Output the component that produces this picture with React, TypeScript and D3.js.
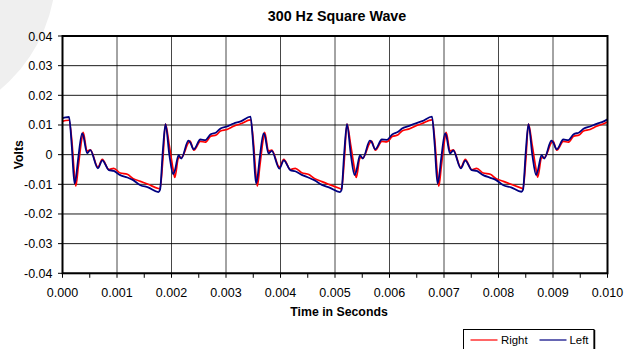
import React from "react";
import * as d3 from "d3";

const timeSec = [
  0.0, 0.00006,
  0.00012, 0.00017, 0.00022, 0.000245, 0.00029, 0.00036, 0.00038, 0.00045, 0.00051, 0.00065, 0.00073, 0.00085, 0.00094, 0.00106, 0.00119, 0.00129, 0.00143, 0.00157, 0.00176, 0.00179, 0.00184, 0.00189, 0.00196, 0.00203, 0.00206, 0.00213, 0.00218, 0.00231, 0.00234, 0.00241, 0.00253, 0.00262, 0.00272, 0.00282, 0.0029, 0.00302, 0.00314, 0.00327,
  0.00345, 0.0035, 0.00355, 0.003575, 0.00362, 0.00369, 0.00371, 0.00378, 0.00384, 0.00398, 0.00406, 0.00418, 0.00427, 0.00439, 0.00452, 0.00462, 0.00476, 0.0049, 0.00509, 0.00512, 0.00517, 0.00522, 0.00529, 0.00536, 0.00539, 0.00546, 0.00551, 0.00564, 0.00567, 0.00574, 0.00586, 0.00595, 0.00605, 0.00615, 0.00623, 0.00635, 0.00647, 0.0066,
  0.00678, 0.00683, 0.00688, 0.006905, 0.00695, 0.00702, 0.00704, 0.00711, 0.00717, 0.00731, 0.00739, 0.00751, 0.0076, 0.00772, 0.00785, 0.00795, 0.00809, 0.00823, 0.00842, 0.00845, 0.0085, 0.00855, 0.00862, 0.00869, 0.00872, 0.00879, 0.00884, 0.00897, 0.009, 0.00907, 0.00919, 0.00928, 0.00938, 0.00948, 0.00956, 0.00968, 0.0098, 0.00993,
  0.01,
];

const leftVolts = [
  0.0123, 0.0126,
  0.0127, 0.003, -0.0097, -0.008, -0.001, 0.0072, 0.0065, 0.0005, 0.0015, -0.0046, -0.0019, -0.0052, -0.0055, -0.0069, -0.0077, -0.0085, -0.0103, -0.011, -0.0126, -0.0118, 0.001, 0.0103, 0.0, -0.0066, -0.0055, -0.0002, -0.0013, 0.0047, 0.0042, 0.0018, 0.0051, 0.0049, 0.0069, 0.0075, 0.0088, 0.0095, 0.0105, 0.0112,
  0.0128, 0.003, -0.0097, -0.0081, -0.001, 0.0072, 0.0066, 0.0004, 0.0013, -0.0047, -0.0019, -0.0052, -0.0056, -0.0068, -0.0078, -0.0086, -0.0102, -0.0111, -0.0126, -0.0119, 0.0008, 0.0103, 0.0001, -0.0069, -0.0056, -0.0002, -0.0013, 0.0047, 0.0043, 0.0018, 0.0051, 0.005, 0.0068, 0.0076, 0.0088, 0.0096, 0.0105, 0.0113,
  0.0128, 0.0031, -0.0097, -0.008, -0.0011, 0.0072, 0.0065, 0.0004, 0.0014, -0.0046, -0.002, -0.0052, -0.0055, -0.0069, -0.0078, -0.0085, -0.0103, -0.011, -0.0125, -0.0118, 0.0009, 0.0103, 0.0, -0.0069, -0.0055, -0.0002, -0.0013, 0.0047, 0.0042, 0.0018, 0.0051, 0.0049, 0.0069, 0.0075, 0.0087, 0.0095, 0.0104, 0.0112,
  0.0119,
];

const rightVolts = [
  0.0112, 0.0115,
  0.0116, 0.005, -0.007, -0.0106, -0.004, 0.006, 0.0075, 0.0012, 0.0016, -0.0042, -0.0016, -0.005, -0.0046, -0.0062, -0.0066, -0.008, -0.009, -0.01, -0.0114, -0.0115, -0.002, 0.0103, 0.003, -0.005, -0.0077, -0.001, -0.001, 0.004, 0.0046, 0.0015, 0.0045, 0.0042, 0.0062, 0.0066, 0.008, 0.0085, 0.0096, 0.0104,
  0.0117, 0.005, -0.007, -0.0106, -0.004, 0.006, 0.0075, 0.0012, 0.0015, -0.0042, -0.0016, -0.005, -0.0046, -0.0061, -0.0067, -0.008, -0.0091, -0.0101, -0.0114, -0.0116, -0.002, 0.0103, 0.003, -0.005, -0.0077, -0.001, -0.0011, 0.004, 0.0046, 0.0015, 0.0045, 0.0043, 0.0061, 0.0066, 0.008, 0.0086, 0.0096, 0.0105,
  0.0117, 0.0051, -0.007, -0.0106, -0.0041, 0.006, 0.0075, 0.0012, 0.0016, -0.0043, -0.0016, -0.0051, -0.0046, -0.0062, -0.0066, -0.008, -0.009, -0.01, -0.0113, -0.0115, -0.002, 0.0103, 0.003, -0.005, -0.0076, -0.001, -0.001, 0.004, 0.0046, 0.0015, 0.0045, 0.0042, 0.0062, 0.0066, 0.008, 0.0085, 0.0096, 0.0104,
  0.011,
];

const yTicks = [0.04, 0.03, 0.02, 0.01, 0, -0.01, -0.02, -0.03, -0.04];
const yTickLabels = ["0.04", "0.03", "0.02", "0.01", "0", "-0.01", "-0.02", "-0.03", "-0.04"];
const xTicks = [0, 0.001, 0.002, 0.003, 0.004, 0.005, 0.006, 0.007, 0.008, 0.009, 0.01];
const xMinorTicks = [0.0005, 0.0015, 0.0025, 0.0035, 0.0045, 0.0055, 0.0065, 0.0075, 0.0085, 0.0095];

const FONT = "'Liberation Sans', Arial, sans-serif";

export default function App() {
  const W = 634, H = 349;
  const L = 62.5, R = 607.5, T = 36, B = 273.3;
  const x = d3.scaleLinear().domain([0, 0.01]).range([L, R]);
  const y = d3.scaleLinear().domain([-0.04, 0.04]).range([B, T]);

  const line = d3
    .line<number>()
    .x((_, i) => x(timeSec[i]))
    .y((d) => y(d))
    .curve(d3.curveMonotoneX);

  return (
    <svg
      width={W}
      height={H}
      style={{ position: "absolute", left: 0, top: 0, background: "#fff" }}
      fontFamily={FONT}
    >
      <rect x={0} y={0} width={W} height={H} fill="#fff" />
      <circle cx={-100} cy={-30} r={156} fill="#efefef" />
      <rect x={L} y={T} width={R - L} height={B - T} fill="#fff" />
      {xTicks.map((t) => (
        <line key={"vg" + t} x1={x(t)} x2={x(t)} y1={T} y2={B} stroke="#333" strokeWidth={0.9} />
      ))}
      {yTicks.map((t) => (
        <line key={"hg" + t} x1={L} x2={R} y1={y(t)} y2={y(t)} stroke="#000" strokeWidth={0.9} />
      ))}
      <path d={line(rightVolts) || ""} fill="none" stroke="#ff0000" strokeWidth={1.7} strokeLinejoin="round" />
      <path d={line(leftVolts) || ""} fill="none" stroke="#000080" strokeWidth={1.8} strokeLinejoin="round" />
      <rect x={L} y={T} width={R - L} height={B - T} fill="none" stroke="#000" strokeWidth={2} />
      {yTicks.map((t, i) => (
        <g key={"yt" + t}>
          <line x1={L - 4.5} x2={L} y1={y(t)} y2={y(t)} stroke="#000" strokeWidth={1} />
          <text x={52.5} y={y(t)} dy="0.36em" textAnchor="end" fontSize={12.5} fill="#000">
            {yTickLabels[i]}
          </text>
        </g>
      ))}
      {xTicks.concat(xMinorTicks).map((t) => (
        <line key={"xt" + t} x1={x(t)} x2={x(t)} y1={B} y2={B + 4.5} stroke="#000" strokeWidth={1} />
      ))}
      {xTicks.map((t) => (
        <text key={"xl" + t} x={x(t)} y={296.5} textAnchor="middle" fontSize={12.5} fill="#000">
          {d3.format(".3f")(t)}
        </text>
      ))}
      <text x={337} y={21} textAnchor="middle" fontSize={14.3} fontWeight="bold" fill="#000">
        300 Hz Square Wave
      </text>
      <text x={339} y={315.5} textAnchor="middle" fontSize={12.3} fontWeight="bold" fill="#000">
        Time in Seconds
      </text>
      <text
        transform={`translate(22.5, ${(T + B) / 2}) rotate(-90)`}
        textAnchor="middle"
        fontSize={12.3}
        fontWeight="bold"
        fill="#000"
      >
        Volts
      </text>
      <rect x={463.5} y={329.5} width={130.5} height={30} fill="#fff" stroke="#000" strokeWidth={1} />
      <line x1={594.5} x2={594.5} y1={330} y2={349} stroke="#000" strokeWidth={1.5} />
      <line x1={470.5} x2={497.5} y1={340} y2={340} stroke="#ff0000" strokeWidth={1.2} />
      <text x={501} y={344} fontSize={11.4} fill="#000">Right</text>
      <line x1={539.5} x2={566.5} y1={340} y2={340} stroke="#000080" strokeWidth={1.2} />
      <text x={569.5} y={344} fontSize={11.4} fill="#000">Left</text>
    </svg>
  );
}
